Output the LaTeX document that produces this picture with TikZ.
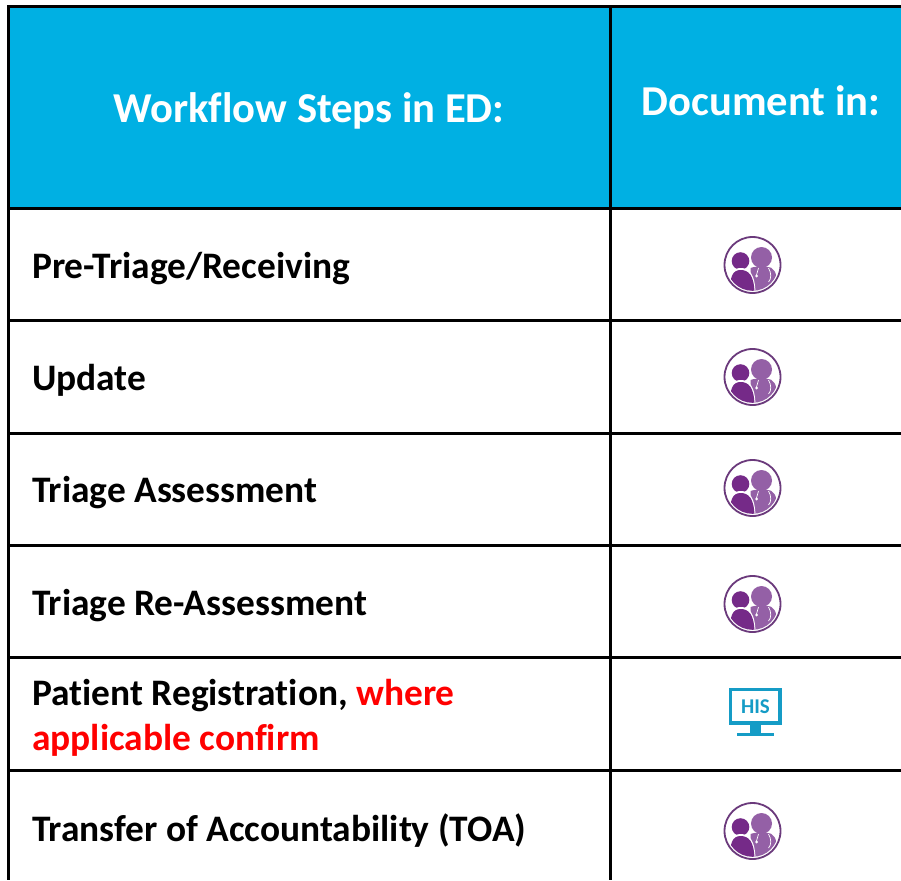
\documentclass[tikz,border=0pt]{standalone}
\usepackage{fontspec}
\setmainfont{Carlito}[RawFeature={-liga}]
\definecolor{headblue}{HTML}{00B0E3}
\definecolor{purA}{HTML}{752A88}
\definecolor{purB}{HTML}{9460A6}
\definecolor{ringp}{HTML}{6B3A7C}
\definecolor{hisb}{HTML}{159CC6}
\definecolor{warn}{HTML}{FF0000}
\tikzset{
  gridline/.style={line width=3pt,black},
  headtxt/.style={font=\bfseries\fontsize{42.6}{42.6}\selectfont,text=white,inner sep=0pt},
  rowtxt/.style={font=\bfseries\fontsize{37.4}{45}\selectfont,text=black,inner sep=0pt,anchor=west,align=left},
  pics/careicon/.style={code={
    \fill[white] (0,0) circle (28.5);
    \begin{scope}
      \clip (0,0) circle (25.8);
      \fill[purB] (9,-7.5) circle (10.5);
      \fill[purB] (-2,30) -- (-2,3) .. controls (3,1) and (15,1) .. (19,3) .. controls (24,6) and (25,14) .. (26,30) -- cycle;
      \fill[white] (-12,-4) circle (9.6);
      \fill[purA] (-12,-4) circle (8.8);
      \fill[white] (-25,30) .. controls (-25,10) and (-20,3) .. (-12,3) .. controls (-4,3) and (3,8) .. (3,30) -- cycle;
      \fill[purA] (-23,30) .. controls (-23,12) and (-20,5) .. (-12,5) .. controls (-4,5) and (2,10) .. (2,30) -- cycle;
      \draw[white,line width=.7pt] (6,3) -- (4,10) (16,3) .. controls (19,8) and (19,14) .. (16,17);
      \fill[white] (4,11) circle (1.5);
    \end{scope}
    \draw[ringp,line width=1.8pt] (0,0) circle (28);
  }},
  pics/hisicon/.style={code={
    \draw[hisb,line width=3.6pt] (-24.5,-16.5) rectangle (25,17);
    \fill[hisb] (-5,18) rectangle (6,27);
    \fill[hisb] (-18,26.5) rectangle (19,30);
    \node[inner sep=0pt,text=hisb,font=\bfseries\fontsize{21}{21}\selectfont] at (0.5,0.5) {HIS};
  }}
}
\begin{document}
\begin{tikzpicture}[x=1pt,y=-1pt]
\useasboundingbox (0,0) rectangle (901,880);
\fill[white] (0,0) rectangle (901,880);
\fill[headblue] (8,7) rectangle (901,208);
\coordinate (tl) at (8,7);
\coordinate (tr) at (901,7);
\coordinate (bl) at (8,880);
\coordinate (mt) at (610,7);
\coordinate (mb) at (610,880);
\draw[gridline] (tr) -- (tl) -- (bl);
\draw[gridline] (mt) -- (mb);
\foreach \y in {208,320.5,433,545,657.5,770}{
  \draw[gridline] (8,\y) -- (901,\y);
}
\node[headtxt] (h1) at (309,111) {Workflow Steps in ED:};
\node[headtxt] (h2) at (761,101) {Document in:};
\node[rowtxt] (r1) at (32,269) {Pre-Triage/Receiving};
\node[rowtxt] (r2) at (32,380) {Update};
\node[rowtxt] (r3) at (32,492.5) {Triage Assessment};
\node[rowtxt] (r4) at (32,606) {Triage Re-Assessment};
\node[rowtxt] (r5) at (32,718) {Patient Registration, \textcolor{warn}{where}\\\textcolor{warn}{applicable confirm}};
\node[rowtxt] (r6) at (32,831) {Transfer of Accountability (TOA)};
\pic at (752.5,265) {careicon};
\pic at (752.5,377) {careicon};
\pic at (752.5,488) {careicon};
\pic at (752.5,604) {careicon};
\pic at (755,706) {hisicon};
\pic at (752.5,831) {careicon};
\end{tikzpicture}
\end{document}
